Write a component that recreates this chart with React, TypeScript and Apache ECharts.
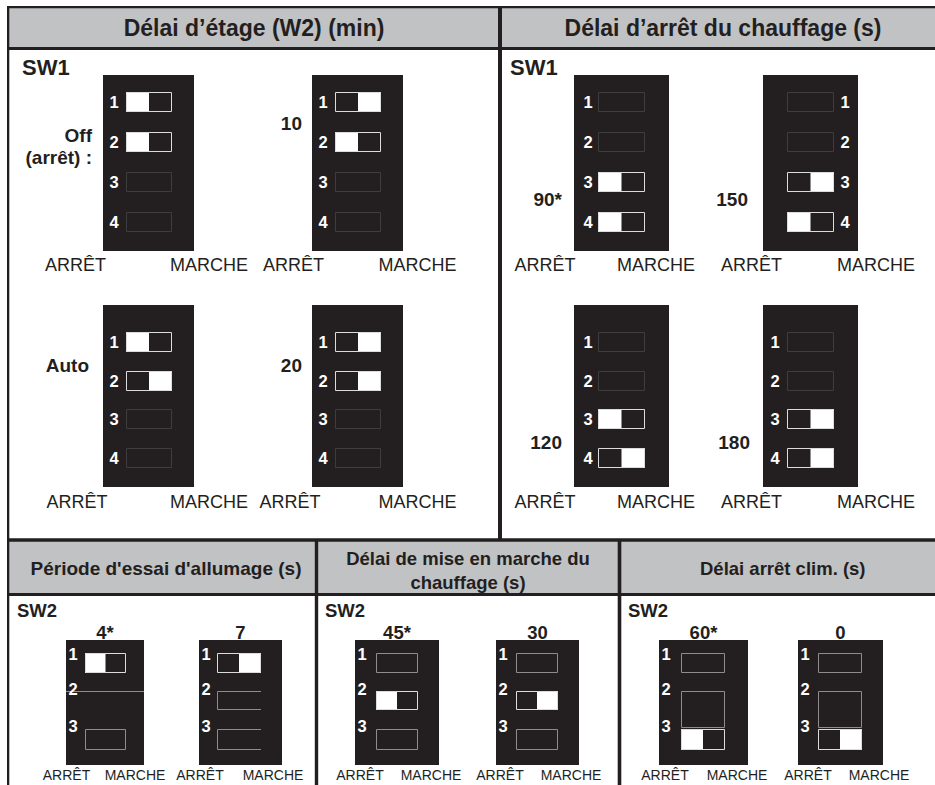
import React, { useEffect, useRef } from "react";
import * as echarts from "echarts";

// ---------------- data ----------------
const topPanelTitles = ["Délai d’étage (W2) (min)", "Délai d’arrêt du chauffage (s)"];
const bottomPanelTitles = [
  "Période d'essai d'allumage (s)",
  "Délai de mise en marche du\nchauffage (s)",
  "Délai arrêt clim. (s)",
];
const bankLabels = ["SW1", "SW1", "SW2", "SW2", "SW2"];
const positionLabels = ["ARRÊT", "MARCHE"];

// switch state: 0 = ARRÊT (left half white), 1 = MARCHE (right half white), null = not used
const stageDelayOptions = ["Off\n(arrêt) :", "10", "Auto", "20"];
const stageDelayStates = [
  [0, 0, null, null],
  [1, 0, null, null],
  [0, 1, null, null],
  [1, 1, null, null],
];
const heatOffOptions = ["90*", "150", "120", "180"];
const heatOffStates = [
  [null, null, 0, 0],
  [null, null, 1, 0],
  [null, null, 0, 1],
  [null, null, 1, 1],
];
const ignitionOptions = ["4*", "7"];
const ignitionStates = [
  [0, null, null],
  [1, null, null],
];
const heatOnOptions = ["45*", "30"];
const heatOnStates = [
  [null, 0, null],
  [null, 1, null],
];
const coolOffOptions = ["60*", "0"];
const coolOffStates = [
  [null, null, 0],
  [null, null, 1],
];

const panelOptions = [stageDelayOptions, heatOffOptions, ignitionOptions, heatOnOptions, coolOffOptions];
const panelStates = [stageDelayStates, heatOffStates, ignitionStates, heatOnStates, coolOffStates];

// ---------------- layout (positions / styles) ----------------
const FONT = '"Liberation Sans", Arial, Helvetica, sans-serif';
const INK = "#231f20";
const HEADER_GRAY = "#c1c2c4";
const W = 935;
const H = 785;

const topRows = [
  { y: 75, h: 176, slotTops: [92, 132, 172, 212], posY: 265 },
  { y: 305, h: 182, slotTops: [332, 371, 409, 448], posY: 502 },
];

type BoxLayout = {
  x: number; y: number; w: number; h: number;
  slotDx: number; slotW: number; slotTops: number[]; slotHs: number[];
  numDx: number; numYs: number[]; numAlign: string; numFont: number;
  labelX: number; labelY: number; labelAlign: string; labelFont: number;
  arrX: number; marX: number; posY: number; posFont: number;
  idle: string[]; idleColor: string;
};

function topBox(x: number, row: number, w: number, slotDx: number, slotW: number, numDx: number,
  labelX: number, labelY: number, arrX: number, marX: number): BoxLayout {
  const r = topRows[row];
  return {
    x, y: r.y, w, h: r.h, slotDx, slotW, slotTops: r.slotTops, slotHs: [20, 20, 20, 20],
    numDx, numYs: r.slotTops.map((t) => t + 10), numAlign: "center", numFont: 16.5,
    labelX, labelY, labelAlign: "right", labelFont: 19,
    arrX, marX, posY: r.posY, posFont: 18,
    idle: ["rect", "rect", "rect", "rect"], idleColor: "#3f3c3d",
  };
}

function bottomBox(x: number, w: number, slotDx: number, slotW: number, arrX: number, marX: number,
  idle: string[], slotHs: number[]): BoxLayout {
  return {
    x, y: 640, w, h: 125, slotDx, slotW, slotTops: [653, 691, 729], slotHs,
    numDx: 7, numYs: [654, 689, 726], numAlign: "center", numFont: 16.5,
    labelX: x + w / 2, labelY: 632, labelAlign: "center", labelFont: 18.5,
    arrX, marX, posY: 775, posFont: 14,
    idle, idleColor: "#8e8c8d",
  };
}

const panelLayouts: BoxLayout[][] = [
  [
    topBox(103, 0, 91, 23, 46, 11, 92, 146, 75.5, 209),
    topBox(312, 0, 91, 23, 46, 11, 302, 123, 293.5, 417.5),
    topBox(103, 1, 91, 23, 46, 11, 89, 365, 77, 209),
    topBox(312, 1, 91, 23, 46, 11, 302, 365, 290, 417.5),
  ],
  [
    topBox(574, 0, 95, 24, 47, 14, 562, 199, 545, 656),
    topBox(763, 0, 95, 24, 47, 82, 748, 199, 751.5, 876),
    topBox(574, 1, 95, 24, 47, 14, 562, 442, 545, 656),
    topBox(763, 1, 95, 24, 47, 12, 750, 442, 751.5, 876),
  ],
  [
    bottomBox(66, 78, 19, 41, 66.5, 135, ["rect", "line", "rect"], [20, 19, 21]),
    bottomBox(199, 83, 18, 44, 200, 273, ["rect", "open", "open"], [20, 19, 21]),
  ],
  [
    bottomBox(355, 84, 21, 42, 360, 431, ["rect", "rect", "rect"], [20, 19, 21]),
    bottomBox(496, 83, 20, 42, 500, 571, ["rect", "rect", "rect"], [20, 19, 21]),
  ],
  [
    bottomBox(659, 89, 22, 44, 665, 737, ["rect", "rect", "rect"], [20, 37, 21]),
    bottomBox(798, 85, 20, 44, 808, 879, ["rect", "rect", "rect"], [20, 37, 21]),
  ],
];

type Item = { label: string; states: (number | null)[]; lay: BoxLayout };
const items: Item[] = [];
panelOptions.forEach((opts, p) => {
  opts.forEach((label, o) => {
    items.push({ label, states: panelStates[p][o], lay: panelLayouts[p][o] });
  });
});

// frame geometry
const LEFT = 8;
const TOP = 7;
const HDR1_BOTTOM = 48.5;
const MID_X = 500;
const SPLIT_Y = 540;
const HDR2_BOTTOM = 594.5;
const DIV1 = 316.5;
const DIV2 = 619.5;
const RIGHT_VIRTUAL = 946;

function frameGraphics(): any[] {
  const g: any[] = [];
  const rect = (x: number, y: number, w: number, h: number, fill: string) =>
    g.push({ type: "rect", shape: { x, y, width: w, height: h }, style: { fill }, silent: true });
  // header bands
  rect(LEFT, TOP, W - LEFT, HDR1_BOTTOM - TOP, HEADER_GRAY);
  rect(LEFT, SPLIT_Y, W - LEFT, HDR2_BOTTOM - SPLIT_Y, HEADER_GRAY);
  // lines
  rect(LEFT - 1, TOP - 1, W - LEFT + 1, 2.3, INK);
  rect(LEFT - 1, HDR1_BOTTOM - 1.5, W - LEFT + 1, 3, INK);
  rect(LEFT - 1, TOP - 1, 2.3, H - TOP + 1, INK);
  rect(MID_X - 2, TOP - 1, 4, SPLIT_Y - TOP + 1, INK);
  rect(LEFT - 1, SPLIT_Y - 1.7, W - LEFT + 1, 3.4, INK);
  rect(LEFT - 1, HDR2_BOTTOM - 1.6, W - LEFT + 1, 3.2, INK);
  rect(DIV1 - 1.7, SPLIT_Y - 1, 3.4, H - SPLIT_Y + 1, INK);
  rect(DIV2 - 1.8, SPLIT_Y - 1, 3.6, H - SPLIT_Y + 1, INK);

  const text = (t: string, x: number, y: number, size: number, weight: string, align: string, lh?: number) =>
    g.push({
      type: "text",
      x, y,
      silent: true,
      style: {
        text: t, fill: INK, fontFamily: FONT, fontSize: size, fontWeight: weight,
        align, verticalAlign: "middle", lineHeight: lh || size * 1.2,
      },
    });
  text(topPanelTitles[0], (LEFT + MID_X) / 2, 28, 23, "bold", "center");
  text(topPanelTitles[1], (MID_X + RIGHT_VIRTUAL) / 2, 28, 23, "bold", "center");
  text(bottomPanelTitles[0], 166, 568, 19, "bold", "center");
  text(bottomPanelTitles[1], (DIV1 + DIV2) / 2, 570, 18.5, "bold", "center", 24);
  text(bottomPanelTitles[2], (DIV2 + RIGHT_VIRTUAL) / 2, 568, 18.5, "bold", "center");
  text(bankLabels[0], 22, 67, 22, "bold", "left");
  text(bankLabels[1], 510, 67, 22, "bold", "left");
  text(bankLabels[2], 17, 610, 18.5, "bold", "left");
  text(bankLabels[3], 325, 610, 18.5, "bold", "left");
  text(bankLabels[4], 628, 610, 18.5, "bold", "left");
  return g;
}

function renderSwitch(params: any, api: any) {
  const it = items[params.dataIndex];
  const L = it.lay;
  const P = (x: number, y: number) => api.coord([x, y]);
  const ch: any[] = [];
  const box = (x: number, y: number, w: number, h: number, style: any) => {
    const a = P(x, y);
    const b = P(x + w, y + h);
    ch.push({ type: "rect", shape: { x: a[0], y: a[1], width: b[0] - a[0], height: b[1] - a[1] }, style });
  };
  const txt = (t: string, x: number, y: number, size: number, weight: string, align: string, fill: string, lh?: number) => {
    const a = P(x, y);
    ch.push({
      type: "text",
      style: {
        text: t, x: a[0], y: a[1], fill, fontFamily: FONT, fontSize: size, fontWeight: weight,
        align, verticalAlign: "middle", lineHeight: lh || size * 1.25,
      },
    });
  };

  box(L.x, L.y, L.w, L.h, { fill: INK });

  it.states.forEach((s, k) => {
    const sx = L.x + L.slotDx;
    const sy = L.slotTops[k];
    const sh = L.slotHs[k];
    const half = L.slotW / 2;
    if (s === null) {
      const kind = L.idle[k];
      const st = { stroke: L.idleColor, lineWidth: 1, fill: "none" };
      if (kind === "line") {
        const a = P(L.x, sy + 0.5);
        const b = P(L.x + L.w, sy + 0.5);
        ch.push({ type: "line", shape: { x1: a[0], y1: a[1], x2: b[0], y2: b[1] }, style: st });
      } else if (kind === "open") {
        const pts = [P(sx + L.slotW, sy + 0.5), P(sx + 0.5, sy + 0.5), P(sx + 0.5, sy + sh - 0.5), P(sx + L.slotW, sy + sh - 0.5)];
        ch.push({ type: "polyline", shape: { points: pts }, style: st });
      } else {
        box(sx + 0.5, sy + 0.5, L.slotW - 1, sh - 1, st);
      }
    } else {
      box(sx, sy, L.slotW, sh, { fill: INK });
      box(s === 0 ? sx : sx + half, sy, half, sh, { fill: "#ffffff" });
      box(sx + 0.5, sy + 0.5, L.slotW - 1, sh - 1, { fill: "none", stroke: "#dcdcdc", lineWidth: 1 });
    }
    txt(String(k + 1), L.x + L.numDx, L.numYs[k], L.numFont, "bold", L.numAlign, "#ffffff");
  });

  txt(it.label, L.labelX, L.labelY, L.labelFont, "bold", L.labelAlign, INK, 22);
  txt(positionLabels[0], L.arrX, L.posY, L.posFont, "normal", "center", INK);
  txt(positionLabels[1], L.marX, L.posY, L.posFont, "normal", "center", INK);

  return { type: "group", children: ch };
}

export default function App() {
  const ref = useRef<HTMLDivElement>(null);
  useEffect(() => {
    if (!ref.current) return;
    const chart = echarts.init(ref.current, undefined, { renderer: "svg", width: W, height: H });
    chart.setOption({
      animation: false,
      backgroundColor: "#ffffff",
      grid: { left: 0, right: 0, top: 0, bottom: 0, containLabel: false },
      xAxis: { type: "value", min: 0, max: W, show: false },
      yAxis: { type: "value", min: 0, max: H, inverse: true, show: false },
      graphic: frameGraphics(),
      series: [
        {
          type: "custom",
          clip: false,
          silent: true,
          renderItem: renderSwitch,
          data: items.map((_, i) => [i, 0]),
          z: 10,
        },
      ],
    });
    return () => chart.dispose();
  }, []);
  return (
    <div
      ref={ref}
      style={{ position: "fixed", left: 0, top: 0, width: W, height: H, background: "#fff" }}
    />
  );
}
